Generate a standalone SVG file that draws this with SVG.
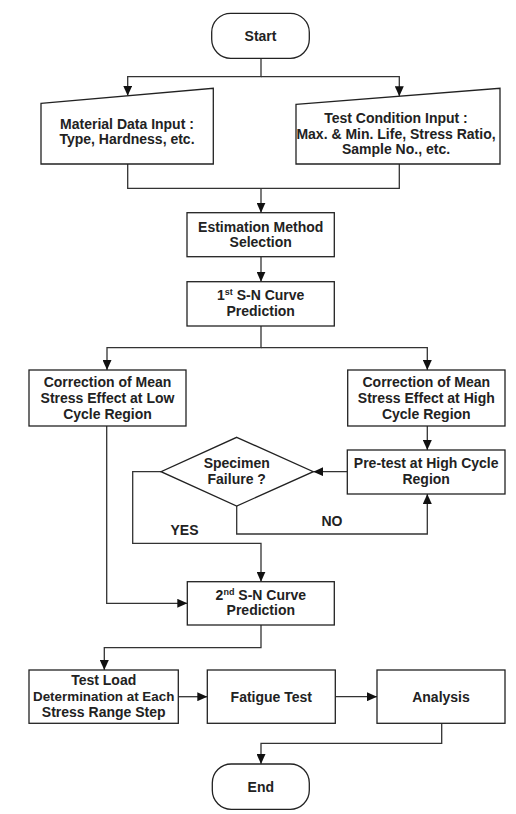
<svg xmlns="http://www.w3.org/2000/svg" width="516" height="814" viewBox="0 0 516 814">
<defs>
<marker id="arr" markerUnits="userSpaceOnUse" markerWidth="11" markerHeight="9" refX="10" refY="4.5" orient="auto">
<path d="M0,0 L10,4.5 L0,9 z" fill="#111"/>
</marker>
<style>
.box{fill:#fff;stroke:#222;stroke-width:1.3}
.c{fill:none;stroke:#333;stroke-width:1.3}
.a{marker-end:url(#arr)}
text{font-family:"Liberation Sans",Arial,sans-serif;font-weight:bold;font-size:14px;fill:#222;text-anchor:middle}
.sup{font-size:9px}
</style>
</defs>
<rect width="516" height="814" fill="#fff"/>
<g id="connectors">
<path class="c a" d="M261,58.3 V76.7 H127.7 V95.8"/>
<path class="c a" d="M261,76.7 H399.3 V96.2"/>
<path class="c" d="M127.7,164 V188.3 H399.3 V164"/>
<path class="c a" d="M261,188.3 V212.7"/>
<path class="c a" d="M261,256.7 V281.7"/>
<path class="c a" d="M261,326 V347.7 H107 V370"/>
<path class="c a" d="M261,347.7 H427.3 V370"/>
<path class="c a" d="M427.3,426 V450"/>
<path class="c a" d="M347.3,471.7 H313.3"/>
<path class="c a" d="M236.7,506 V534 H427.3 V494"/>
<path class="c a" d="M161,471.7 H132.7 V543.3 H261 V581.7"/>
<path class="c a" d="M106.7,426 V603.3 H187.3"/>
<path class="c a" d="M261,625 V647.7 H104.3 V670"/>
<path class="c a" d="M178.3,696.7 H207.3"/>
<path class="c a" d="M335.3,696.7 H377"/>
<path class="c a" d="M441.7,723.3 V743.3 H261 V764"/>
<text x="332" y="526">NO</text>
<text x="184.5" y="535">YES</text>
</g>
<g id="start">
<rect class="box" x="211.7" y="13.3" width="97.6" height="45" rx="19" ry="19"/>
<text x="260.5" y="40.5">Start</text>
</g>
<g id="material">
<path class="box" d="M41,103.3 L213.3,88.3 V164 H41 Z"/>
<text x="127" y="129">Material Data Input :</text>
<text x="127" y="144">Type, Hardness, etc.</text>
</g>
<g id="testcond">
<path class="box" d="M296,104.3 L500,88.3 V164 H296 Z"/>
<text x="396" y="123.3">Test Condition Input :</text>
<text x="396" y="138.5">Max. &amp; Min. Life, Stress Ratio,</text>
<text x="396" y="153.7">Sample No., etc.</text>
</g>
<g id="estimation">
<rect class="box" x="187" y="212.7" width="147.3" height="44"/>
<text x="260.7" y="231.5">Estimation Method</text>
<text x="260.7" y="247">Selection</text>
</g>
<g id="sn1">
<rect class="box" x="187" y="281.7" width="147.3" height="44.3"/>
<text x="260.7" y="300">1<tspan class="sup" dy="-5">st</tspan><tspan dy="5"> S-N Curve</tspan></text>
<text x="260.7" y="315.5">Prediction</text>
</g>
<g id="corrLow">
<rect class="box" x="29" y="370" width="157" height="56"/>
<text x="107.5" y="387.3">Correction of Mean</text>
<text x="107.5" y="403.2">Stress Effect at Low</text>
<text x="107.5" y="419">Cycle Region</text>
</g>
<g id="corrHigh">
<rect class="box" x="347.7" y="370" width="157.3" height="56"/>
<text x="426.3" y="387.3">Correction of Mean</text>
<text x="426.3" y="403.2">Stress Effect at High</text>
<text x="426.3" y="419">Cycle Region</text>
</g>
<g id="pretest">
<rect class="box" x="347.3" y="450" width="157.7" height="44"/>
<text x="426.2" y="468.3">Pre-test at High Cycle</text>
<text x="426.2" y="484">Region</text>
</g>
<g id="failure">
<path class="box" d="M236.7,437.3 L313.3,471.7 L236.7,506 L161,471.7 Z"/>
<text x="236.7" y="468.3">Specimen</text>
<text x="236.7" y="483.5">Failure ?</text>
</g>
<g id="sn2">
<rect class="box" x="187.3" y="581.7" width="147" height="43.3"/>
<text x="260.8" y="599.5">2<tspan class="sup" dy="-5">nd</tspan><tspan dy="5"> S-N Curve</tspan></text>
<text x="260.8" y="615">Prediction</text>
</g>
<g id="testload">
<rect class="box" x="29" y="670" width="149.3" height="53.3"/>
<text x="103.7" y="685" >Test Load</text>
<text x="103.7" y="701" style="font-size:13.4px">Determination at Each</text>
<text x="103.7" y="717.3">Stress Range Step</text>
</g>
<g id="fatigue">
<rect class="box" x="207.3" y="670" width="128" height="53.3"/>
<text x="271.3" y="701.5">Fatigue Test</text>
</g>
<g id="analysis">
<rect class="box" x="377" y="670" width="128" height="53.3"/>
<text x="441" y="701.5">Analysis</text>
</g>
<g id="end">
<rect class="box" x="212.3" y="764" width="97" height="45.3" rx="19" ry="19"/>
<text x="260.8" y="791.5">End</text>
</g>
</svg>
